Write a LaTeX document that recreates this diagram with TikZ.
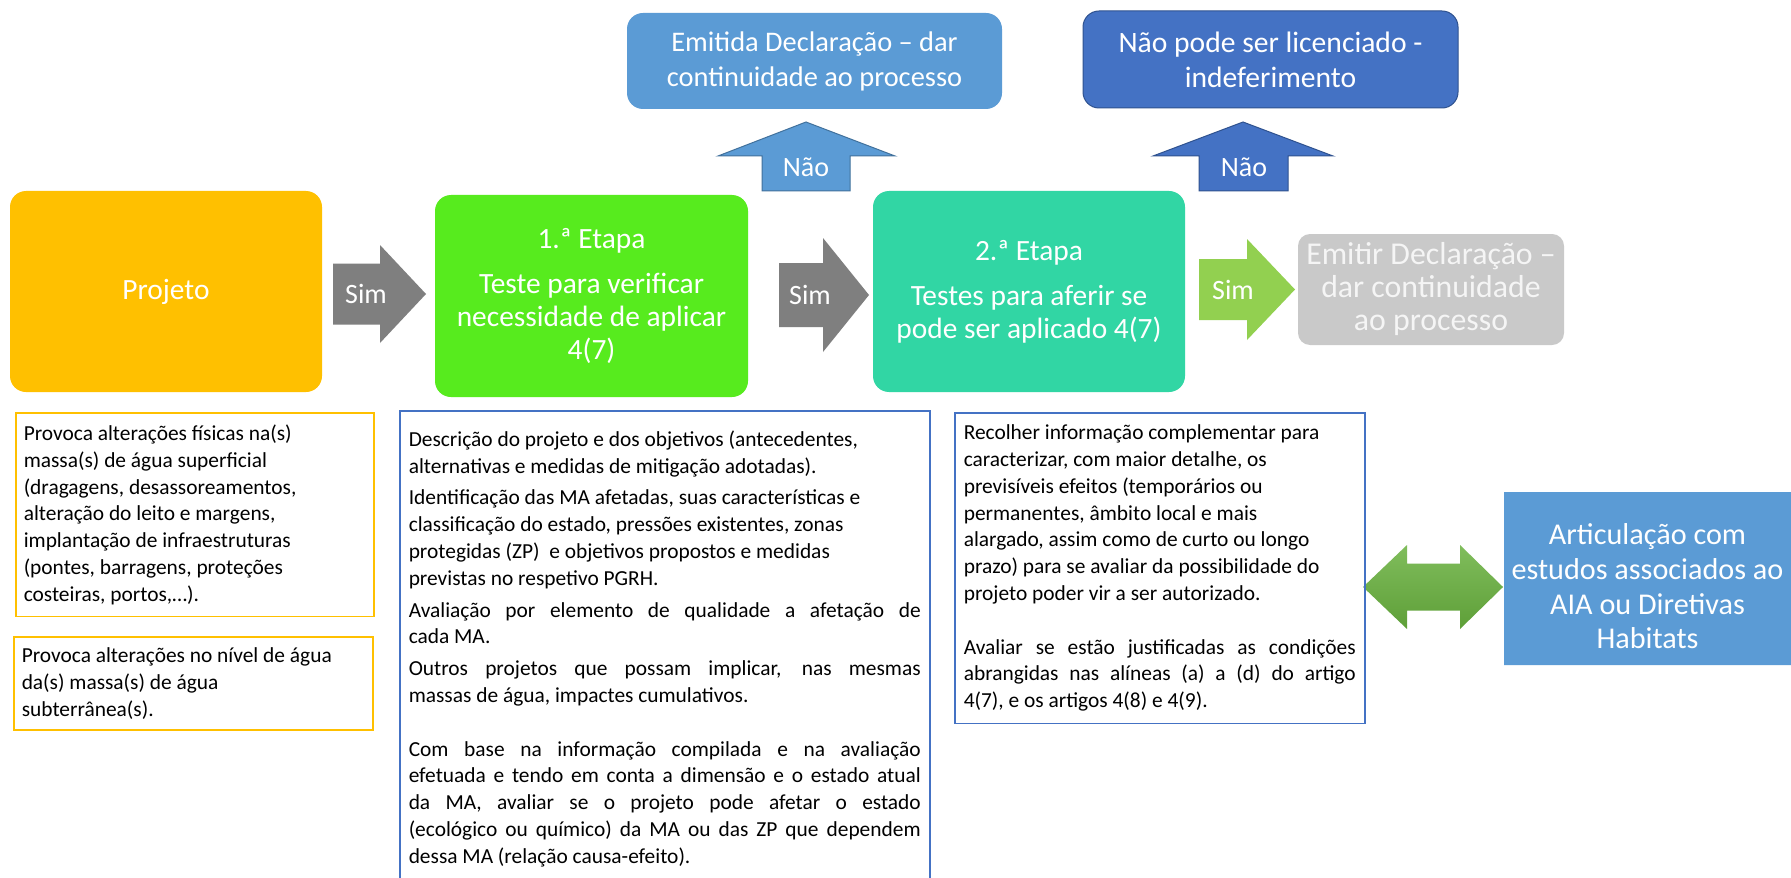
\documentclass[tikz,border=0pt]{standalone}
\usepackage{fontspec}
\setmainfont{Carlito}
\usetikzlibrary{shapes.misc}
\setlength{\parindent}{0pt}
\hyphenpenalty=10000
\definecolor{projetoc}{HTML}{FFC000}
\definecolor{etapaum}{HTML}{57EB1E}
\definecolor{etapadois}{HTML}{31D6A4}
\definecolor{emitirc}{HTML}{C9C9C9}
\definecolor{azulc}{HTML}{5B9BD5}
\definecolor{azulborda}{HTML}{41719C}
\definecolor{azulesc}{HTML}{4472C4}
\definecolor{azulescborda}{HTML}{2F528F}
\definecolor{cinzac}{HTML}{7F7F7F}
\definecolor{verdec}{HTML}{92D050}
\definecolor{verdetopo}{HTML}{80BD5C}
\definecolor{verdebase}{HTML}{5E9F38}

\begin{document}
\begin{tikzpicture}[x=0.5pt, y=-0.5pt,
    caixa/.style={rounded corners=8pt, text=white, align=center, inner sep=0pt,
      font=\fontsize{14.7}{16.5}\selectfont},
    nota/.style={draw=#1, line width=0.75pt, anchor=north west, inner xsep=4pt,
      inner ysep=6pt, font=\fontsize{10.7}{13.4}\selectfont},
    rotulo/.style={text=white, inner sep=0pt, font=\fontsize{14}{16}\selectfont}]
  \fill[white] (0,0) rectangle (1791,877);
  \useasboundingbox (0,0) rectangle (1791,877);

  % caixas do fluxo
  \node[caixa, fill=projetoc, minimum width=156pt, minimum height=100.5pt] (projeto) at (166,291.5) {Projeto};
  \node[caixa, fill=etapaum, minimum width=156.5pt, minimum height=101pt] (etapa1) at (591.5,296)
    {1.ª Etapa\\[6pt] Teste para verificar\\ necessidade de aplicar\\ 4(7)};
  \node[caixa, fill=etapadois, minimum width=156pt, minimum height=100.5pt] (etapa2) at (1029,291.5)
    {2.ª Etapa\\[6pt] Testes para aferir se\\ pode ser aplicado 4(7)};
  \node[caixa, fill=emitirc, text=white!96!black, rounded corners=6pt, minimum width=133pt, minimum height=55.5pt,
    font=\fontsize{15.9}{16.5}\selectfont] (emitir) at (1431,289.5)
    {Emitir Declaração –\\ dar continuidade\\ ao processo};
  \node[caixa, fill=azulc, minimum width=187.5pt, minimum height=48pt,
    font=\fontsize{14.2}{17.5}\selectfont] (emitida) at (814.5,61)
    {Emitida Declaração – dar\\ continuidade ao processo};
  \node[caixa, fill=azulesc, draw=azulescborda, line width=0.5pt, minimum width=187.5pt, minimum height=48.5pt,
    font=\fontsize{14.8}{17.5}\selectfont] (naopode) at (1270.5,59.5)
    {Não pode ser licenciado -\\ indeferimento};
  \node[caixa, fill=azulc, rounded corners=0pt, chamfered rectangle, chamfered rectangle corners=north east,
    chamfered rectangle sep=3pt, minimum width=143.5pt, minimum height=86.5pt] (articulacao) at (1647.5,578.5) {};
  \node[caixa, font=\fontsize{15.1}{17.3}\selectfont] (articulacaotxt) at ([yshift=-4pt]articulacao.center)
    {Articulação com\\ estudos associados ao\\ AIA ou Diretivas\\ Habitats};

  % setas
  \fill[cinzac] (333,263.5) -- (380,263.5) -- (380,245) -- (426,294) -- (380,343) -- (380,324.5) -- (333,324.5) -- cycle;
  \fill[cinzac] (779,263) -- (823,263) -- (823,238) -- (869,295) -- (823,352) -- (823,327) -- (779,327) -- cycle;
  \fill[verdec] (1199,259) -- (1247,259) -- (1247,239) -- (1295,289.5) -- (1247,340) -- (1247,320) -- (1199,320) -- cycle;
  \filldraw[fill=azulc, draw=azulborda, line width=0.5pt]
    (762,191) -- (762,156) -- (718,156) -- (806,122) -- (895,156) -- (850,156) -- (850,191) -- cycle;
  \filldraw[fill=azulesc, draw=azulescborda, line width=0.5pt]
    (1199,191) -- (1199,156) -- (1153,156) -- (1243,122) -- (1333,156) -- (1288,156) -- (1288,191) -- cycle;
  \shade[top color=verdetopo, bottom color=verdebase]
    (1363,587) -- (1407,545) -- (1407,563.5) -- (1460,563.5) -- (1460,545) -- (1503,587)
    -- (1460,629) -- (1460,610.5) -- (1407,610.5) -- (1407,629) -- cycle;
  \node[rotulo] (sim1) at (366,294) {Sim};
  \node[rotulo] (sim2) at (810,295) {Sim};
  \node[rotulo] (sim3) at (1233,290) {Sim};
  \node[rotulo] (nao1) at (806,167) {Não};
  \node[rotulo] (nao2) at (1244,167) {Não};

  % notas
  \node[nota=projetoc, text width=171pt, align=flush left] (fisicas) at (15,412)
    {Provoca alterações físicas na(s)\\ massa(s) de água superficial\\ (dragagens, desassoreamentos,\\
     alteração do leito e margens,\\ implantação de infraestruturas\\ (pontes, barragens, proteções\\
     costeiras, portos,…).};
  \node[nota=projetoc, text width=171.5pt, align=flush left, inner ysep=5.5pt] (nivel) at (13,636)
    {Provoca alterações no nível de água\\ da(s) massa(s) de água\\ subterrânea(s).};
  \node[nota=azulesc, text width=256pt, align=justify, inner xsep=4.5pt, inner ysep=10pt] (etapa1nota) at (399,410)
    {Descrição do projeto e dos objetivos (antecedentes,\\ alternativas e medidas de mitigação adotadas).\\[2.5pt]
     Identificação das MA afetadas, suas características e\\ classificação do estado, pressões existentes, zonas\\
     protegidas (ZP)\ \ e objetivos propostos e medidas\\ previstas no respetivo PGRH.\\[2.5pt]
     Avaliação por elemento de qualidade a afetação de\linebreak cada MA.\\[2.5pt]
     Outros projetos que possam implicar, nas mesmas\linebreak massas de água, impactes cumulativos.\\[13.4pt]
     Com base na informação compilada e na avaliação\linebreak efetuada e tendo em conta a dimensão e o estado atual\linebreak
     da MA, avaliar se o projeto pode afetar o estado\linebreak (ecológico ou químico) da MA ou das ZP que dependem\linebreak
     dessa MA (relação causa-efeito).\\[20pt]};
  \node[nota=azulesc, text width=196pt, align=justify, inner xsep=4.5pt] (etapa2nota) at (954,412)
    {Recolher informação complementar para\\ caracterizar, com maior detalhe, os\\ previsíveis efeitos (temporários ou\\
     permanentes, âmbito local e mais\\ alargado, assim como de curto ou longo\\ prazo) para se avaliar da possibilidade do\\
     projeto poder vir a ser autorizado.\\[13.4pt]
     Avaliar se estão justificadas as condições\linebreak abrangidas nas alíneas (a) a (d) do artigo\linebreak
     4(7), e os artigos 4(8) e 4(9).};
\end{tikzpicture}
\end{document}
